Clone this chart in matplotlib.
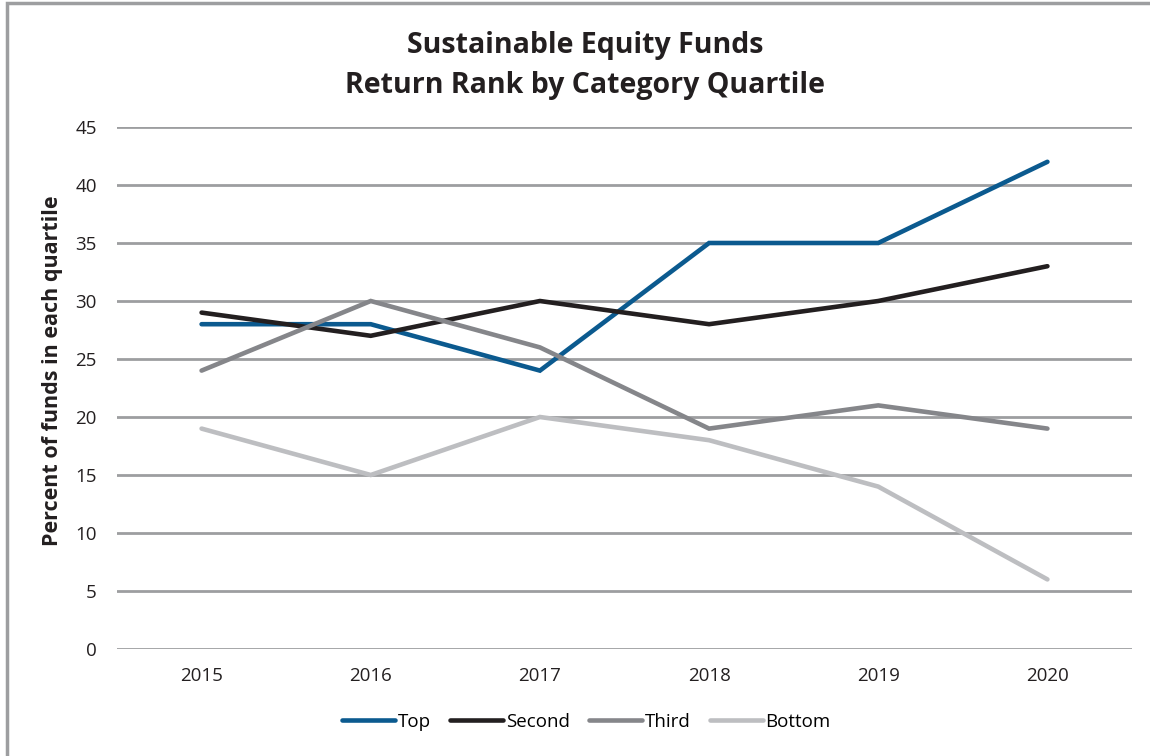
import matplotlib.pyplot as plt
from matplotlib.patches import Rectangle

plt.rcParams["font.family"] = ["Open Sans", "DejaVu Sans"]

years = ["2015", "2016", "2017", "2018", "2019", "2020"]
top = [28, 28, 24, 35, 35, 42]
second = [29, 27, 30, 28, 30, 33]
third = [24, 30, 26, 19, 21, 19]
bottom = [19, 15, 20, 18, 14, 6]

series = [
    ("Top", top, "#0b5a8f"),
    ("Second", second, "#231f20"),
    ("Third", third, "#85868a"),
    ("Bottom", bottom, "#bdbec1"),
]

fig = plt.figure(figsize=(11.5, 7.56), dpi=100)
ax = fig.add_axes([117 / 1150, 1 - 649 / 756, (1132 - 117) / 1150, (649 - 127) / 756])

# frame around the whole chart (only left/top visible in the crop)
fig.patches.append(Rectangle((7 / 1150, -0.1), 1.2, 1 - 3 / 756 + 0.1,
                             transform=fig.transFigure, fill=False,
                             edgecolor="#9d9ea0", linewidth=2.5))

x = list(range(len(years)))
for label, vals, color in series:
    ax.plot(x, vals, color=color, linewidth=3.3, label=label,
            solid_capstyle="round", solid_joinstyle="miter")

ax.set_xlim(-0.5, len(years) - 0.5)
ax.set_ylim(0, 45)
ax.set_yticks(range(0, 50, 5))
ax.set_xticks(x)
ax.set_xticklabels(years)
ax.yaxis.grid(True, color="#9d9ea0", linewidth=2)
ax.set_axisbelow(True)
for s in ax.spines.values():
    s.set_visible(False)
ax.tick_params(length=0, labelsize=13.5, colors="#231f20")
ax.tick_params(axis="y", pad=14.5)
ax.tick_params(axis="x", pad=13)

ax.set_ylabel("Percent of funds in each quartile", fontsize=15.5, fontweight="bold",
              color="#231f20")
ax.yaxis.set_label_coords(-0.053, 0.533)

fig.text(0.509, 1 - 66 / 756, "Sustainable Equity Funds\nReturn Rank by Category Quartile",
         ha="center", va="center", fontsize=20.5, fontweight="bold", color="#231f20",
         linespacing=1.5)

fig.legend(loc="center", bbox_to_anchor=(0.51, 1 - 722 / 756), ncol=4, frameon=False,
           fontsize=13.5, handlelength=2.8, handletextpad=0.15, columnspacing=1.05)

fig.savefig("out.png", dpi=100)
